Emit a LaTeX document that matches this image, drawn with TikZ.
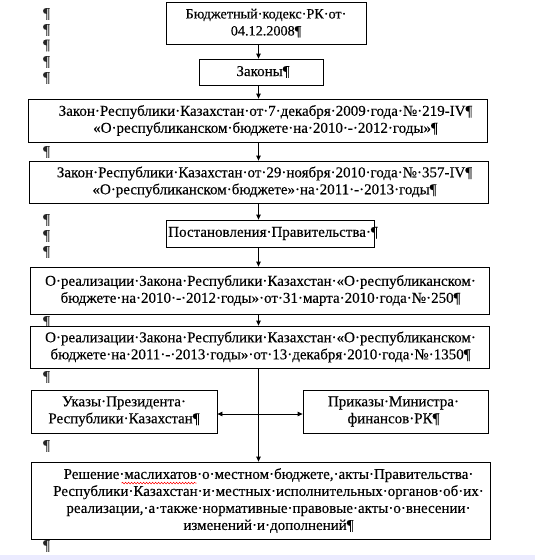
\documentclass[tikz,border=0pt]{standalone}
\usepackage{fontspec}
\setmainfont[FakeBold=0.25]{Liberation Serif}
\usetikzlibrary{arrows.meta,decorations.pathmorphing,calc}
\begin{document}
\begin{tikzpicture}[x=1pt,y=-1pt,
  box/.style={draw, line width=0.8pt, fill=white, inner sep=0pt},
  txt/.style={align=center, inner sep=0pt, font=\fontsize{15}{17}\selectfont, text=black},
  pil/.style={font=\fontsize{15}{17}\selectfont, inner sep=0pt, text=black!85},
  arr/.style={-{Triangle[length=5pt,width=4.5pt]}, line width=0.8pt},
  darr/.style={{Triangle[length=5pt,width=4.5pt]}-{Triangle[length=5pt,width=4.5pt]}, line width=0.8pt},
  squig/.style={red, line width=0.5pt, decorate, decoration={snake, amplitude=0.8pt, segment length=3pt}}]
\useasboundingbox (0,0) rectangle (535,560);
\fill[white] (0,0) rectangle (535,560);
% margin paragraph marks
\foreach \yy [count=\i] in {14,30,45.5,62,78,152,220,236,252,322,377,446,546}
  \node[pil] (p\i) at (46.5,\yy) {¶};
% boxes
\node[box, minimum width=200, minimum height=42] (b1) at (266,23) {};
\node[box, minimum width=124, minimum height=26] (b2) at (261,72) {};
\node[box, minimum width=459, minimum height=43] (b3) at (257.5,120.5) {};
\node[box, minimum width=459, minimum height=42] (b4) at (258.5,182) {};
\node[box, minimum width=208, minimum height=27] (b5) at (270,233.5) {};
\node[box, minimum width=459, minimum height=47] (b6) at (259.5,290.5) {};
\node[box, minimum width=459, minimum height=42] (b7) at (259.5,347) {};
\node[box, minimum width=186, minimum height=43] (b8) at (124,411.5) {};
\node[box, minimum width=185, minimum height=43] (b9) at (395.5,411.5) {};
\node[box, minimum width=459, minimum height=77] (b10) at (260.5,500.5) {};
% texts
\node[txt, font=\fontsize{14.2}{17}\selectfont] (t1) at (b1.center) {Бюджетный·кодекс·РК·от·\\04.12.2008¶};
\node[txt] (t2) at ([xshift=2pt]b2.center) {Законы¶};
\node[txt] (t3) at ([xshift=8pt]b3.center)
  {Закон·Республики·Казахстан·от·7·декабря·2009·года·№·219-IV¶\\«О·республиканском·бюджете·на·2010·-·2012·годы»¶};
\node[txt] (t4) at ([xshift=6pt]b4.center)
  {Закон·Республики·Казахстан·от·29·ноября·2010·года·№·357-IV¶\\«О·республиканском·бюджете»·на·2011·-·2013·годы¶};
\node[txt] (t5) at ([xshift=3pt]b5.center) {Постановления·Правительства·¶};
\node[txt] (t6) at ([xshift=1pt]b6.center)
  {О·реализации·Закона·Республики·Казахстан·«О·республиканском·\\бюджете·на·2010·-·2012·годы»·от·31·марта·2010·года·№·250¶};
\node[txt] (t7) at ([xshift=1pt]b7.center)
  {О·реализации·Закона·Республики·Казахстан·«О·республиканском·\\бюджете·на·2011·-·2013·годы»·от·13·декабря·2010·года·№·1350¶};
\node[txt] (t8) at (b8.center) {Указы·Президента·\\Республики·Казахстан¶};
\node[txt] (t9) at ([xshift=-2pt]b9.center) {Приказы·Министра·\\финансов·РК¶};
\node[txt] (t10) at ([xshift=8pt]b10.center)
  {Решение·маслихатов·о·местном·бюджете,·акты·Правительства·\\Республики·Казахстан·и·местных·исполнительных·органов·об·их·\\реализации,·а·также·нормативные·правовые·акты·о·внесении·\\изменений·и·дополнений¶};
% spelling squiggle under "маслихатов"
\draw[squig] ($(b10.north west)+(91,21.5)$) -- ($(b10.north west)+(166,21.5)$);
% connectors
\coordinate (sp) at (258.5,0);
\coordinate (dy) at (0,414);
\draw[arr] (b1.south -| sp) -- (b2.north -| sp);
\draw[arr] (b2.south -| sp) -- (b3.north -| sp);
\draw[arr] (b3.south -| sp) -- (b4.north -| sp);
\draw[arr] (b4.south -| sp) -- (b5.north -| sp);
\draw[arr] (b5.south -| sp) -- (b6.north -| sp);
\draw[arr] (b6.south -| sp) -- (b7.north -| sp);
\draw[arr] (b7.south -| sp) -- (b10.north -| sp);
\draw[darr] (b8.east |- dy) -- (b9.west |- dy);
% window edge
\fill[blue!8!white] (0,555) rectangle (535,560);
\end{tikzpicture}
\end{document}
